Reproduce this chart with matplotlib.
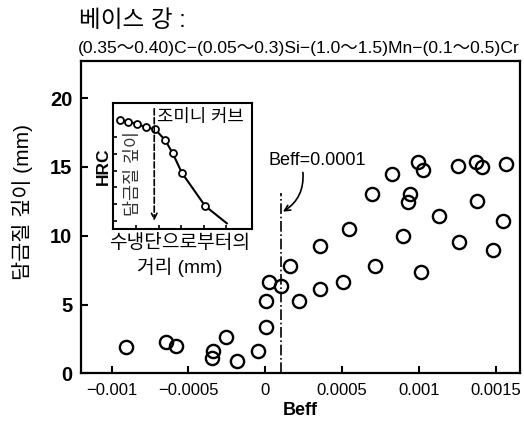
import matplotlib
matplotlib.use("Agg")
import matplotlib.pyplot as plt

plt.rcParams['font.family'] = ['Liberation Sans', 'Noto Sans CJK KR']
plt.rcParams['axes.unicode_minus'] = True

# main scatter: Beff vs 담금질 깊이 (mm)
beff = [0.000996, 0.001025, 0.000827, 0.001257, 0.001372, 0.001409, 0.001567,
        0.000697, 0.000942, 0.000931, 0.001376, 0.001133, 0.001546, 0.000545,
        0.000895, 0.001263, 0.001484, 0.000356, 0.000714, 0.001014, 0.000161,
        0.000024, 0.000102, 0.000504, 0.000356, 0.000219, 0.000005, 0.000005,
        -0.000049, -0.000186, -0.000909, -0.000646, -0.000581, -0.000339,
        -0.000345, -0.000258]
depth = [15.39, 14.79, 14.47, 15.08, 15.39, 14.98, 15.20,
         13.04, 13.04, 12.48, 12.53, 11.46, 11.08, 10.49,
         10.01, 9.53, 8.97, 9.26, 7.83, 7.35, 7.83,
         6.62, 6.37, 6.62, 6.13, 5.28, 5.28, 3.35,
         1.64, 0.92, 1.93, 2.30, 2.01, 1.64,
         1.09, 2.62]

# inset: Jominy curve (arbitrary units)
jom_x = [0.30, 0.66, 1.06, 1.45, 1.85, 2.29, 2.63, 3.03, 4.06]
jom_y = [6.53, 6.43, 6.29, 6.09, 5.97, 5.33, 4.53, 3.37, 1.38]
jom_end = (5.02, 0.34)

beff_crit = 0.0001
xticks = [-0.001, -0.0005, 0, 0.0005, 0.001, 0.0015]
xticklabels = ['\u22120.001', '\u22120.0005', '0', '0.0005', '0.001', '0.0015']
yticks = [0, 5, 10, 15, 20]

W, H = 524, 432
fig = plt.figure(figsize=(W / 100, H / 100), dpi=100)
ax = fig.add_axes([80.5 / W, 1 - 373.3 / H, (520 - 80.5) / W, (373.3 - 61) / H])

ax.plot(beff, depth, 'o', mfc='none', mec='k', ms=9.5, mew=1.7, ls='none')
ax.plot([beff_crit, beff_crit], [0, 13.1], color='k', lw=1.2, ls='-.')
ax.annotate('', xy=(0.000115, 11.75), xytext=(0.000245, 14.6),
            arrowprops=dict(arrowstyle='->', connectionstyle='arc3,rad=-0.3',
                            lw=1.2, color='k', shrinkA=0, shrinkB=0))
ax.text(0.000335, 15.45, 'Beff=0.0001', ha='center', va='center', fontsize=13)

ax.set_xlim(-0.001203, 0.001658)
ax.set_ylim(0, 22.7)
ax.set_xticks(xticks)
ax.set_xticklabels(xticklabels)
ax.set_yticks(yticks)
ax.tick_params(direction='in', length=5, width=1.5)
ax.tick_params(axis='x', labelsize=12, pad=7)
ax.tick_params(axis='y', labelsize=14.5, pad=6)
for lab in ax.get_yticklabels():
    lab.set_fontweight('bold')
for s in ax.spines.values():
    s.set_linewidth(1.6)
ax.set_xlabel('Beff', fontsize=13, fontweight='bold', labelpad=3)

fig.text(22 / W, 1 - 202 / H, '담금질 깊이 (mm)', rotation=90,
         ha='center', va='center', fontsize=15)
fig.text(79 / W, 1 - 21 / H, '베이스 강 :', ha='left', va='center', fontsize=17)
fig.text(78 / W, 1 - 48.5 / H,
         '(0.35～0.40)C\u2212(0.05～0.3)Si\u2212(1.0～1.5)Mn\u2212(0.1～0.5)Cr',
         ha='left', va='center', fontsize=12.6)

# inset
ins = fig.add_axes([113.3 / W, 1 - 229 / H, 138.4 / W, 125.7 / H])
ins.plot(jom_x + [jom_end[0]], jom_y + [jom_end[1]], color='k', lw=1.5)
ins.plot(jom_x, jom_y, 'o', mfc='white', mec='k', ms=5, mew=1.3)
ins.annotate('', xy=(1.81, 0.5), xytext=(1.81, 7.2),
             arrowprops=dict(arrowstyle='->', ls='--', lw=1.2, color='k',
                             shrinkA=0, shrinkB=0))
ins.text(1.92, 6.65, '조미니 커브', ha='left', va='center', fontsize=12.8)
ins.text(0.85, 3.3, '담금질 깊이', rotation=90, ha='center', va='center',
         fontsize=12.5, color='#333333')
ins.set_xlim(0, 6.12)
ins.set_ylim(0, 7.53)
ins.set_xticks([1, 2, 3, 4, 5])
ins.set_yticks([0.5, 1.5, 2.5, 3.5, 4.5, 5.5])
ins.tick_params(direction='in', length=3, width=1.2, labelbottom=False,
                labelleft=False)
for s in ins.spines.values():
    s.set_linewidth(1.5)
ins.set_ylabel('HRC', fontsize=12.5, fontweight='bold', labelpad=2)

fig.text(180 / W, 1 - 243.5 / H, '수냉단으로부터의', ha='center',
         va='center', fontsize=13.8)
fig.text(180 / W, 1 - 267 / H, '거리 (mm)', ha='center',
         va='center', fontsize=13.8)

fig.savefig('out.png', dpi=100)
